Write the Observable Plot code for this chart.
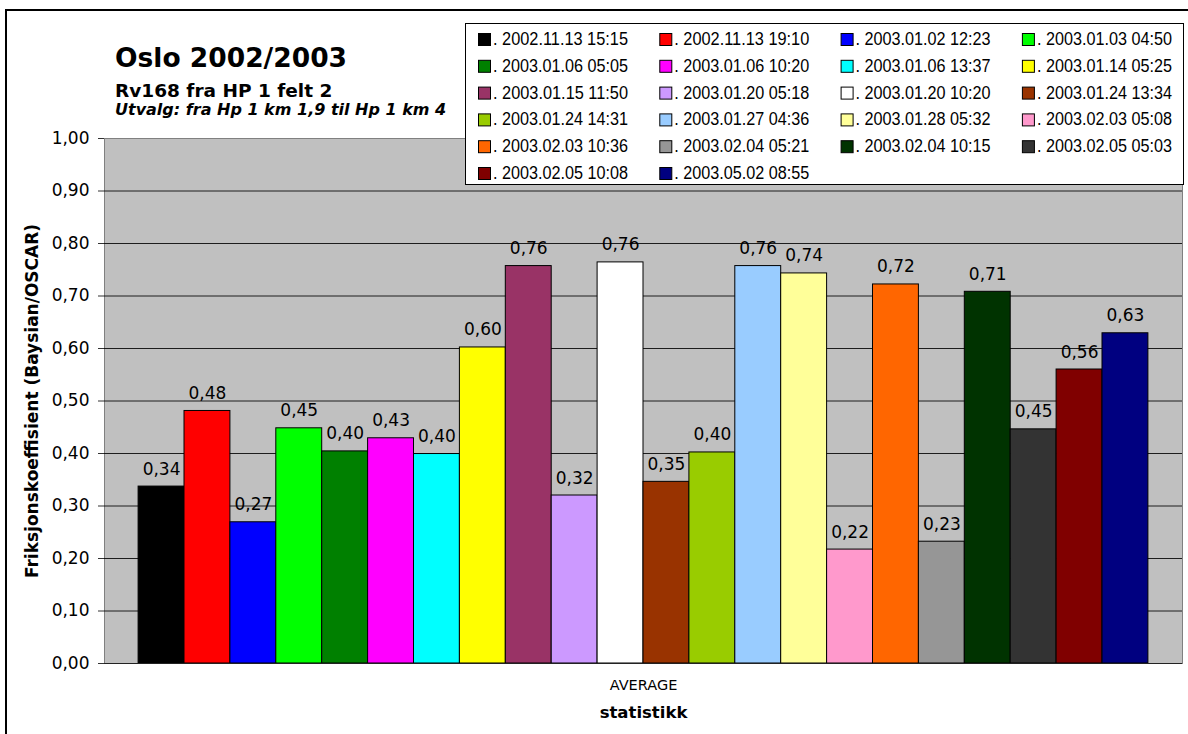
<!DOCTYPE html>
<html>
<head>
<meta charset="utf-8">
<script src="https://cdn.jsdelivr.net/npm/d3@7"></script>
<script src="https://cdn.jsdelivr.net/npm/@observablehq/plot@0.6"></script>
<style>
  html, body { margin: 0; padding: 0; background: #fff; overflow: hidden; }
  #chart { position: relative; width: 1188px; height: 734px; }
  #frame { position: absolute; left: 5px; top: 9px; width: 1200px; height: 760px;
           border-left: 2px solid #000; border-top: 2px solid #000; }
  #chart svg { position: absolute; left: 0; top: 0; }
  g[aria-label="y-axis label"] text { font-weight: bold; font-size: 17px; }
  g[aria-label="fx-axis label"] text { font-weight: bold; font-size: 16.5px; }
</style>
</head>
<body>
<div id="chart"><div id="frame"></div></div>
<script>
// Measurement runs (date + time), one bar each
const series = [
  "2002.11.13 15:15", "2002.11.13 19:10", "2003.01.02 12:23", "2003.01.03 04:50",
  "2003.01.06 05:05", "2003.01.06 10:20", "2003.01.06 13:37", "2003.01.14 05:25",
  "2003.01.15 11:50", "2003.01.20 05:18", "2003.01.20 10:20", "2003.01.24 13:34",
  "2003.01.24 14:31", "2003.01.27 04:36", "2003.01.28 05:32", "2003.02.03 05:08",
  "2003.02.03 10:36", "2003.02.04 05:21", "2003.02.04 10:15", "2003.02.05 05:03",
  "2003.02.05 10:08", "2003.05.02 08:55"
];

// Average friction coefficient per run
const values = [
  0.337, 0.481, 0.269, 0.448,
  0.404, 0.429, 0.399, 0.602,
  0.757, 0.320, 0.764, 0.346,
  0.402, 0.757, 0.743, 0.217,
  0.722, 0.232, 0.708, 0.446,
  0.560, 0.629
];

const colors = [
  "#000000", "#ff0000", "#0000ff", "#00ff00",
  "#008000", "#ff00ff", "#00ffff", "#ffff00",
  "#993366", "#cc99ff", "#ffffff", "#993300",
  "#99cc00", "#99ccff", "#ffff99", "#ff99cc",
  "#ff6600", "#969696", "#003300", "#333333",
  "#800000", "#000080"
];

const statistic = ["AVERAGE"];
const yTicks = [0, 0.1, 0.2, 0.3, 0.4, 0.5, 0.6, 0.7, 0.8, 0.9, 1.0];

const title = "Oslo 2002/2003";
const subtitle = "Rv168 fra HP 1 felt 2";
const selection = "Utvalg: fra Hp 1 km 1,9 til Hp 1 km 4";
const yLabel = "Friksjonskoeffisient (Baysian/OSCAR)";
const xLabel = "statistikk";

const rows = series.map((s, i) => ({stat: statistic[0], series: s, value: values[i]}));
const fmt = v => v.toFixed(2).replace(".", ",");

const plot = Plot.plot({
  width: 1188,
  height: 734,
  marginTop: 138,
  marginRight: 6,
  marginBottom: 71,
  marginLeft: 104,
  style: {fontFamily: "'DejaVu Sans', sans-serif", fontSize: "17px", color: "#000", background: "transparent", overflow: "visible"},
  fx: {domain: statistic, padding: 0, round: false},
  x: {domain: series, paddingInner: 0, paddingOuter: 0.743, align: 0.5, round: false, axis: null},
  y: {domain: [0, 1]},
  color: {domain: series, range: colors},
  marks: [
    Plot.frame({fill: "#c0c0c0", stroke: "#808080"}),
    Plot.gridY({ticks: yTicks.slice(1, -1), stroke: "#000", strokeOpacity: 0.85}),
    Plot.barY(rows, {fx: "stat", x: "series", y: "value", fill: "series", stroke: "#000", strokeWidth: 1, inset: 0}),
    Plot.text(rows, {fx: "stat", x: "series", y: "value", text: d => fmt(d.value), lineAnchor: "bottom", dy: -12, fill: "#000"}),
    Plot.ruleY([0], {stroke: "#222"}),
    Plot.axisY({ticks: yTicks, tickFormat: fmt, tickSize: 6, tickPadding: 9, stroke: "#333",
                label: yLabel, labelAnchor: "center", labelOffset: 79, labelArrow: "none"}),
    Plot.axisFx({anchor: "bottom", tickSize: 0, tickPadding: 16, fontSize: 14.5,
                 label: xLabel, labelAnchor: "center", labelOffset: 54, labelArrow: "none"})
  ]
});
document.getElementById("chart").appendChild(plot);

// Titles and legend drawn on top
const svg = d3.select("#chart").append("svg")
  .attr("width", 1188).attr("height", 734)
  .style("font-family", "'DejaVu Sans', sans-serif");

svg.append("text").attr("x", 115).attr("y", 67)
  .attr("font-size", 26.5).attr("font-weight", "bold").text(title);
svg.append("text").attr("x", 115).attr("y", 97)
  .attr("font-size", 18.5).attr("font-weight", "bold").text(subtitle);
svg.append("text").attr("x", 115).attr("y", 115)
  .attr("font-size", 16).attr("font-weight", "bold").attr("font-style", "italic").text(selection);

const legend = svg.append("g");
legend.append("rect")
  .attr("x", 465.5).attr("y", 23.5).attr("width", 718).attr("height", 161)
  .attr("fill", "#fff").attr("stroke", "#000");
series.forEach((s, i) => {
  const col = i % 4, row = Math.floor(i / 4);
  const x = 478 + col * 181.3;
  const cy = 39 + row * 26.8;
  legend.append("rect")
    .attr("x", x + 0.5).attr("y", cy - 6 + 0.5).attr("width", 12).attr("height", 12)
    .attr("fill", colors[i]).attr("stroke", "#000");
  legend.append("text")
    .attr("x", x + 15).attr("y", cy + 6)
    .attr("font-family", "'Liberation Sans Narrow', 'Liberation Sans', sans-serif")
    .attr("font-size", 18)
    .attr("textLength", 135).attr("lengthAdjust", "spacingAndGlyphs")
    .text(". " + s);
});
</script>
</body>
</html>
